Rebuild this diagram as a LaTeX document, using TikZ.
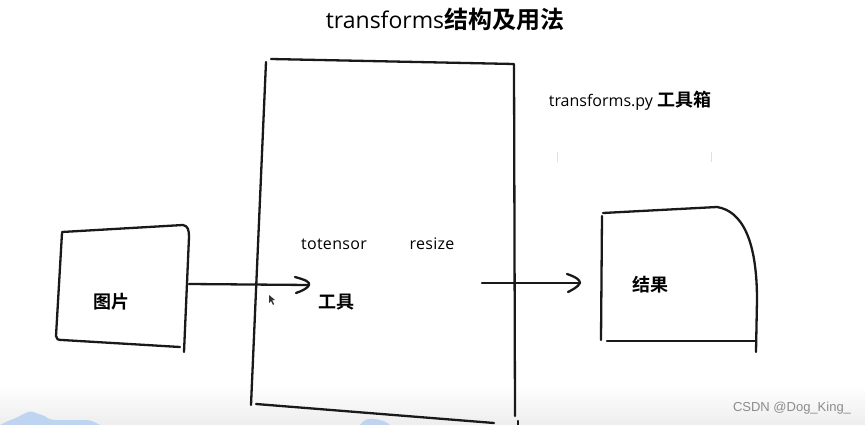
\documentclass[tikz,border=0pt]{standalone}
\usepackage{fontspec}
\setmainfont{Open Sans}
\newfontfamily\cjk{Noto Sans CJK SC}[BoldFont={Noto Sans CJK SC Bold}]
\begin{document}
\begin{tikzpicture}[x=1pt,y=-1pt,
  ink/.style={line width=2.3pt,line cap=round,line join=round,black!90},
  lbl/.style={inner sep=0pt,anchor=center},
  cjkb/.style={font=\cjk\bfseries\fontsize{18}{18}\selectfont},
  hand/.style={font=\fontsize{16}{16}\selectfont\addfontfeatures{LetterSpace=2}}]
\useasboundingbox (0,0) rectangle (865,425);
% bottom gradient band
\shade[top color=white,bottom color=black!7] (0,385) rectangle (865,425);
\fill[cyan!60!blue!25!white] (0,425) -- (8,421) .. controls (18,418) and (22,414) .. (28,412) .. controls (33,410) and (36,414) .. (42,415) .. controls (46,416) and (48,420) .. (55,420) -- (85,420) .. controls (92,420) and (96,423) .. (100,425) -- cycle;
\fill[cyan!60!blue!25!white] (360,425) .. controls (364,419) and (370,418) .. (375,419) .. controls (380,420) and (386,421) .. (390,425) -- cycle;
% title
\node[lbl] (title) at (445,19) {\fontsize{23}{23}\selectfont transforms{\cjk\bfseries\fontsize{24}{24}\selectfont 结构及用法}};
% big box (toolbox)
\draw[ink] (271,59) -- (514,64) -- (515,416);
\draw[ink] (266,62) -- (251,405);
\draw[ink] (256,404) -- (494,423);
\draw[ink] (518,421) -- (518,425);
\node[lbl] (tb) at (630,101) {\fontsize{16}{16}\selectfont transforms.py {\cjk\bfseries\fontsize{18}{18}\selectfont 工具箱}};
\draw[black!12,line width=1pt] (557,152) -- (557,162);
\draw[black!12,line width=1pt] (711,152) -- (711,162);
\node[lbl,hand] (tt) at (334,244) {totensor};
\node[lbl,hand] (rs) at (432,244) {resize};
\node[lbl,cjkb] (tool) at (336,302) {工具};
% picture box
\draw[ink] (62,232) -- (183,225) .. controls (188,226) and (189,230) .. (189,237) -- (184,352);
\draw[ink] (62,233) -- (56,336) .. controls (56,339) and (58,340) .. (62,340) -- (180,347);
\node[lbl,cjkb] (pic) at (111,302) {图片};
% result box
\draw[ink] (603,213) -- (717,207) .. controls (742,211) and (757,240) .. (757,300) -- (756,352);
\draw[ink] (602,216) -- (601,340);
\draw[ink] (607,341) -- (756,341);
\node[lbl,cjkb] (res) at (650,285) {结果};
% arrows
\coordinate (a1s) at (189,284);
\coordinate (a1e) at (309,285);
\coordinate (a2s) at (482,283);
\coordinate (a2e) at (580,283);
\draw[ink] (a1s) -- (a1e);
\draw[ink] (295,277) .. controls (306,280) and (310,282) .. (a1e) .. controls (308,288) and (302,291) .. (296,293);
\draw[ink] (a2s) -- (a2e);
\draw[ink] (567,274) .. controls (576,277) and (580,280) .. (a2e) .. controls (578,287) and (572,290) .. (568,292);
% cursor
\fill[black!80] (269,295) -- (269,303) -- (271,301) -- (273,305) -- (274,304) -- (272,300) -- (275,300) -- cycle;
% watermark
\node[lbl,text=black!45] (wm) at (792,408) {\fontspec{Liberation Sans}\fontsize{13}{13}\selectfont CSDN @Dog\_King\_};
\end{tikzpicture}
\end{document}
